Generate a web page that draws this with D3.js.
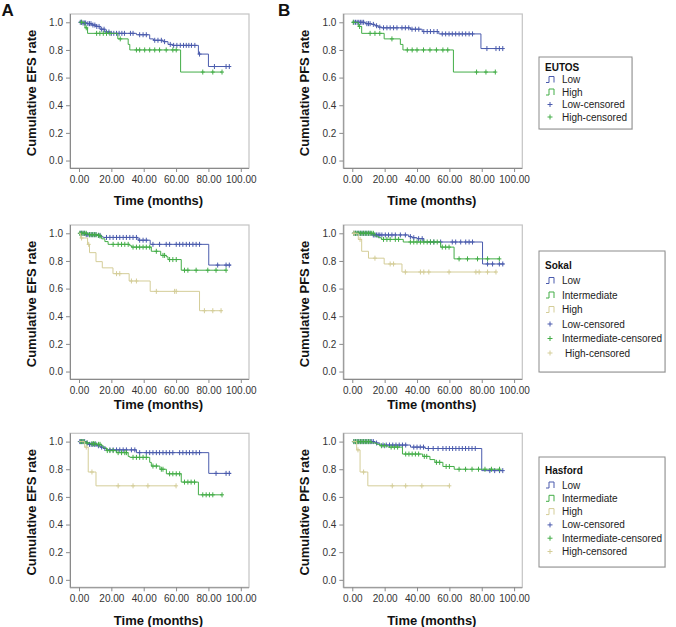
<!DOCTYPE html>
<html><head><meta charset="utf-8">
<script src="https://cdn.jsdelivr.net/npm/d3@7"></script>
<style>body{margin:0;background:#fff}svg{display:block}text{font-family:"Liberation Sans",Arial,sans-serif}</style>
</head><body><svg id="c" width="676" height="627"></svg>
<script>
// ---------- tick labels ----------
const xTicks = [0, 20, 40, 60, 80, 100];
const yTicks = [0, 0.2, 0.4, 0.6, 0.8, 1.0];
const eutosGroups = ["Low", "High"];
const riskGroups = ["Low", "Intermediate", "High"];

// ---------- EFS, EUTOS ----------
const efsEutosLowSteps = [[0,1],[2,0.995],[5,0.99],[8,0.98],[11,0.97],[13,0.95],[16,0.93],[19,0.92],[35.5,0.91],[43.7,0.88],[46,0.87],[52,0.86],[55,0.84],[58,0.833],[73.8,0.77],[80,0.68]];
const efsEutosLowEnd = 93;
const efsEutosLowCens = [0.8,1.6,2.5,3.3,4.1,5.5,6.5,7.4,8.6,9.8,11,12.4,14,15.5,17,18.5,20,21.5,23.2,24.8,26.5,28.1,31.8,33.4,37.5,39.6,41.6,46.8,48.8,50.9,52.9,56.4,58.5,60.5,62.6,64.6,66.3,67.9,69.5,71.6,74.5,83.7,90.9,92.9];
const efsEutosHighSteps = [[0,1],[3.7,0.96],[5.3,0.92],[24,0.88],[30.4,0.84],[31.4,0.80],[62.8,0.64]];
const efsEutosHighEnd = 88.4;
const efsEutosHighCens = [1.6,4.5,10.9,12.9,15,17,19.1,25.5,35.5,37.5,40.6,43.7,46.8,49.8,53.9,58,60.1,76.5,82.7,88.4];

// ---------- EFS, Sokal ----------
const efsSokalLowSteps = [[0,1],[3.7,0.99],[11,0.985],[14,0.975],[15,0.97],[36.5,0.95],[44,0.92],[80.2,0.77]];
const efsSokalLowEnd = 94;
const efsSokalLowCens = [0.8,1.6,2.5,3.5,4.5,5.5,6.5,7.5,8.5,9.5,10.5,12,13,17,19.1,21.1,23.2,25.2,27.3,29.3,31.4,33.4,35.5,37.5,39.6,41.6,45.7,49.8,53.9,56,60.1,62.2,64.2,66.3,68.3,70.4,72.4,74.5,85.7,90.9,92.9];
const efsSokalIntSteps = [[0,1],[5.7,0.99],[11,0.985],[12.5,0.98],[14,0.96],[16,0.94],[18,0.92],[31.4,0.91],[32.5,0.90],[44.7,0.87],[50.5,0.84],[54,0.83],[55,0.81],[63.2,0.733]];
const efsSokalIntEnd = 91;
const efsSokalIntCens = [0.5,1.5,2.5,3.5,4.5,6.5,7.5,8.5,9.5,10.5,12,13,21.1,24.2,26.3,28.3,30.4,33.4,35.5,37.5,39.6,41.6,43.7,47.8,51.9,52.9,56,58,60.1,65.2,67.3,72.4,79.6,84.7,90.9];
const efsSokalHighSteps = [[0,1],[1,0.966],[5.3,0.92],[6.5,0.86],[10.5,0.795],[14.4,0.75],[21,0.708],[31,0.655],[44,0.58],[74.5,0.44]];
const efsSokalHighEnd = 88.4;
const efsSokalHighCens = [1.6,6,23.2,25.2,32.4,35.5,47.8,59.1,60.1,77.5,82.7,87.8];

// ---------- EFS, Hasford ----------
const efsHasLowSteps = [[0,1],[4.7,0.99],[5.7,0.98],[11,0.97],[13,0.96],[15,0.95],[17,0.94],[35.5,0.92],[80.2,0.77]];
const efsHasLowEnd = 94;
const efsHasLowCens = [0.5,1.5,2.5,3.5,5,6.5,7.5,8.5,9.5,10.5,12,14,16,19.1,21.1,23.2,25.2,27.3,29.3,32.4,34.5,37.5,41.6,43.7,45.7,47.8,49.8,51.9,53.9,56,58,62.2,64.2,66.3,68.3,70.4,72.4,74.5,84.7,90.9,92.9];
const efsHasIntSteps = [[0,1],[3.7,0.99],[6.8,0.985],[11,0.98],[14,0.97],[15,0.955],[17,0.935],[23,0.92],[30.4,0.893],[31.4,0.886],[43.7,0.85],[44.7,0.823],[50,0.80],[54,0.767],[63.2,0.707],[73.8,0.615]];
const efsHasIntEnd = 88.4;
const efsHasIntCens = [1,2,3,5,8,9,10,12,13,17.5,19.1,21.1,24.2,26.3,28.3,29.3,33.4,35.5,37.5,39.6,41.6,45.7,47.8,50.9,51.9,56,58,60.1,62.2,65.2,67.3,69.3,71.4,76.5,78.6,80.6,82.7,88.4];
const efsHasHighSteps = [[0,1],[3.5,0.96],[5.7,0.78],[10.5,0.68]];
const efsHasHighEnd = 60;
const efsHasHighCens = [4.5,8,24.2,33.4,42.6,60];

// ---------- PFS, EUTOS ----------
const pfsEutosLowSteps = [[0,1],[8,0.99],[12,0.985],[14,0.975],[16,0.965],[18,0.96],[35.9,0.95],[43.2,0.933],[53.5,0.916],[79.5,0.81]];
const pfsEutosLowEnd = 93;
const pfsEutosLowCens = [1,2,3,4,5,6,7,9,10,11,13,15,17,19.3,21.4,23.4,25.5,27.6,30.7,32.8,34.9,36.9,39,41.1,44.2,46.3,48.3,50.4,52.5,55.6,57.7,59.8,61.8,63.9,66,68,70.1,72.2,74.3,83.2,88.8,90.9,93];
const pfsEutosHighSteps = [[0,1],[3.7,0.97],[5.8,0.92],[19.7,0.88],[29.7,0.84],[31.3,0.80],[62.5,0.64]];
const pfsEutosHighEnd = 88.4;
const pfsEutosHighCens = [0.6,4.5,11,14,17,24.5,34,37,40,44,48,52,56,59,76.8,82.6,88.4];

// ---------- PFS, Sokal ----------
const pfsSokalLowSteps = [[0,1],[12,0.988],[34.9,0.976],[36.9,0.968],[40,0.961],[44.2,0.937],[80.5,0.778]];
const pfsSokalLowEnd = 94;
const pfsSokalLowCens = [1,2,3,4,5,6,7,8,9,10,11,13,14,15,16,17,18.3,20.4,22.4,24.5,26.6,29.7,32.8,35.9,38,41,43.2,48.3,50.4,54.6,61.8,63.9,67,70.1,72.2,74.3,83.6,86.7,90.9,93];
const pfsSokalIntSteps = [[0,1],[14,0.98],[16,0.968],[18,0.956],[31.5,0.937],[54.6,0.90],[62.9,0.815]];
const pfsSokalIntEnd = 90.9;
const pfsSokalIntCens = [1,2,3,4,5,6,7,8,9,10,11,12,13,19.3,21.4,23.4,26.6,28.6,35.9,38,40,42.1,44.2,46.3,48.3,50.4,52.5,55.6,57.7,59.8,66,71.2,77.4,83.6,90.9];
const pfsSokalHighSteps = [[0,1],[3.7,0.956],[5.8,0.87],[10,0.82],[19.7,0.778],[30.7,0.72]];
const pfsSokalHighEnd = 88.8;
const pfsSokalHighCens = [1,4.8,14,23.4,25.5,32.8,42.1,44.2,47.3,59.8,76.4,78.4,83.6,88.8];

// ---------- PFS, Hasford ----------
const pfsHasLowSteps = [[0,1],[14,0.99],[17,0.975],[36,0.96],[45,0.95],[80,0.79]];
const pfsHasLowEnd = 93;
const pfsHasLowCens = [1,2,3,4,5,6,7,8,9,10,11,12,13,15,19,21,23,25,27,29,31,33,38,40,42,44,47,50,53,56,58,60,62,64,66,68,70,72,74,76,85,88,91,93];
const pfsHasIntSteps = [[0,1],[12,0.99],[15,0.98],[17,0.97],[22,0.96],[31,0.91],[43.5,0.893],[48,0.87],[51,0.85],[56,0.82],[63,0.80]];
const pfsHasIntEnd = 91;
const pfsHasIntCens = [1,2,3,4,5,6,7,8,9,10,11,18,20,24,26,28,33,35,37,39,41,44.5,46,52,54,58,60,66,70,74,78,82,86,91];
const pfsHasHighSteps = [[0,1],[2.7,0.94],[4.8,0.78],[9.6,0.68]];
const pfsHasHighEnd = 60;
const pfsHasHighCens = [3.5,7,24.7,33,43,60];

// ---------- build ----------
const colors = {Low: "#4a5bad", Intermediate: "#43ad47", High: "#d4cd98"};
const colorsEutos = {Low: "#4a5bad", High: "#43ad47"};

const svg = d3.select("#c");
const frameW = 179, frameH = 154;
const colLeft = [70, 343.3];
const rowTop = [14, 225, 433.3];
const timeLabelY = [204.7, 408.7, 624.7];

const panels = [
  {col:0,row:0,ylab:"Cumulative EFS rate",cols:colorsEutos,series:[["Low",efsEutosLowSteps,efsEutosLowEnd,efsEutosLowCens],["High",efsEutosHighSteps,efsEutosHighEnd,efsEutosHighCens]]},
  {col:1,row:0,ylab:"Cumulative PFS rate",cols:colorsEutos,series:[["Low",pfsEutosLowSteps,pfsEutosLowEnd,pfsEutosLowCens],["High",pfsEutosHighSteps,pfsEutosHighEnd,pfsEutosHighCens]]},
  {col:0,row:1,ylab:"Cumulative EFS rate",cols:colors,series:[["Low",efsSokalLowSteps,efsSokalLowEnd,efsSokalLowCens],["Intermediate",efsSokalIntSteps,efsSokalIntEnd,efsSokalIntCens],["High",efsSokalHighSteps,efsSokalHighEnd,efsSokalHighCens]]},
  {col:1,row:1,ylab:"Cumulative PFS rate",cols:colors,series:[["Low",pfsSokalLowSteps,pfsSokalLowEnd,pfsSokalLowCens],["Intermediate",pfsSokalIntSteps,pfsSokalIntEnd,pfsSokalIntCens],["High",pfsSokalHighSteps,pfsSokalHighEnd,pfsSokalHighCens]]},
  {col:0,row:2,ylab:"Cumulative EFS rate",cols:colors,series:[["Low",efsHasLowSteps,efsHasLowEnd,efsHasLowCens],["Intermediate",efsHasIntSteps,efsHasIntEnd,efsHasIntCens],["High",efsHasHighSteps,efsHasHighEnd,efsHasHighCens]]},
  {col:1,row:2,ylab:"Cumulative PFS rate",cols:colors,series:[["Low",pfsHasLowSteps,pfsHasLowEnd,pfsHasLowCens],["Intermediate",pfsHasIntSteps,pfsHasIntEnd,pfsHasIntCens],["High",pfsHasHighSteps,pfsHasHighEnd,pfsHasHighCens]]}
];

function valueAt(steps, t) {
  let v = steps[0][1];
  for (const [st, sv] of steps) { if (st <= t) v = sv; else break; }
  return v;
}

panels.forEach(p => {
  const L = colLeft[p.col], T = rowTop[p.row];
  const x = d3.scaleLinear().domain([-5.56, 105.07]).range([L, L + frameW]);
  const y = d3.scaleLinear().domain([-0.054, 1.06]).range([T + frameH, T]);
  const g = svg.append("g");
  g.append("rect").attr("x", L).attr("y", T).attr("width", frameW).attr("height", frameH)
    .attr("fill", "none").attr("stroke", "#c4c4c4").attr("stroke-width", 1.2);

  const ya = g.append("g").attr("transform", `translate(${L},0)`)
    .call(d3.axisLeft(y).tickValues(yTicks).tickFormat(d3.format(".1f")).tickSize(4).tickPadding(3));
  const xa = g.append("g").attr("transform", `translate(0,${T + frameH})`)
    .call(d3.axisBottom(x).tickValues(xTicks).tickFormat(d3.format(".2f")).tickSize(4).tickPadding(4));
  [ya, xa].forEach(a => {
    a.select(".domain").attr("stroke", "#8a8a8a");
    a.selectAll(".tick line").attr("stroke", "#8a8a8a");
    a.selectAll(".tick text").attr("fill", "#333").style("font-size", "10px")
      .style("font-family", '"Liberation Sans",Arial,sans-serif');
  });
  xa.select(".domain").attr("d", `M${L},0.5H${L + frameW}`);
  ya.select(".domain").attr("d", `M0.5,${T}V${T + frameH}`);

  g.append("text").attr("transform", `translate(${L - 34.5},${T + 79}) rotate(-90)`)
    .attr("text-anchor", "middle").attr("font-weight", "bold").attr("font-size", 13).attr("fill", "#111")
    .text(p.ylab);
  g.append("text").attr("x", L + frameW / 2 - 1).attr("y", timeLabelY[p.row])
    .attr("text-anchor", "middle").attr("font-weight", "bold").attr("font-size", 13).attr("fill", "#111")
    .text("Time (months)");

  const line = d3.line().x(d => x(d[0])).y(d => y(d[1])).curve(d3.curveStepAfter);
  p.series.forEach(([name, steps, end, cens]) => {
    const c = p.cols[name];
    const pts = steps.concat([[end, steps[steps.length - 1][1]]]);
    g.append("path").attr("d", line(pts)).attr("fill", "none").attr("stroke", c).attr("stroke-width", 1);
    g.append("g").selectAll("path").data(cens).join("path")
      .attr("d", t => {
        const cx = x(t), cy = y(valueAt(steps, t));
        return `M${cx - 2},${cy}H${cx + 2}M${cx},${cy - 2.5}V${cy + 2.5}`;
      })
      .attr("stroke", c).attr("stroke-width", 1).attr("fill", "none");
  });
});

// panel letters
svg.append("text").attr("x", 1.5).attr("y", 15.5).attr("font-weight", "bold").attr("font-size", 17).attr("fill", "#111").text("A");
svg.append("text").attr("x", 278).attr("y", 15.5).attr("font-weight", "bold").attr("font-size", 17).attr("fill", "#111").text("B");

// legends
const legends = [
  {title: "EUTOS", groups: eutosGroups, cols: colorsEutos, box: [539, 57, 93, 72], titleY: 67.5, rowY: 79.5, step: 12.5, lastIndent: 0},
  {title: "Sokal", groups: riskGroups, cols: colors, box: [539, 251, 126, 121], titleY: 265.5, rowY: 280.5, step: 14.5, lastIndent: 3},
  {title: "Hasford", groups: riskGroups, cols: colors, box: [539, 457, 126, 110], titleY: 470, rowY: 485, step: 13.3, lastIndent: 0}
];
legends.forEach(lg => {
  const g = svg.append("g");
  const [bx, by, bw, bh] = lg.box;
  g.append("rect").attr("x", bx + 1).attr("y", by + 1).attr("width", bw).attr("height", bh).attr("fill", "#e6e6e6");
  g.append("rect").attr("x", bx).attr("y", by).attr("width", bw).attr("height", bh)
    .attr("fill", "#fff").attr("stroke", "#8c8c8c").attr("stroke-width", 1);
  g.append("text").attr("x", bx + 6).attr("y", lg.titleY).attr("dy", "0.35em")
    .attr("font-weight", "bold").attr("font-size", 10).attr("fill", "#111").text(lg.title);
  const rows = lg.groups.map(n => ({name: n, label: n, kind: "line"}))
    .concat(lg.groups.map(n => ({name: n, label: n + "-censored", kind: "cens"})));
  rows.forEach((r, i) => {
    const yy = lg.rowY + i * lg.step;
    const c = lg.cols[r.name];
    const sx = bx + 7;
    if (r.kind === "line") {
      g.append("path").attr("d", `M${sx},${yy + 3}H${sx + 3}V${yy - 3}H${sx + 8}V${yy + 3}`)
        .attr("fill", "none").attr("stroke", c).attr("stroke-width", 1);
    } else {
      g.append("path").attr("d", `M${sx + 1.5},${yy}H${sx + 6.5}M${sx + 4},${yy - 2.5}V${yy + 2.5}`)
        .attr("fill", "none").attr("stroke", c).attr("stroke-width", 1);
    }
    const indent = (i === rows.length - 1) ? lg.lastIndent : 0;
    g.append("text").attr("x", bx + 23 + indent).attr("y", yy).attr("dy", "0.35em")
      .attr("font-size", 10).attr("fill", "#222").text(r.label);
  });
});
</script></body></html>
